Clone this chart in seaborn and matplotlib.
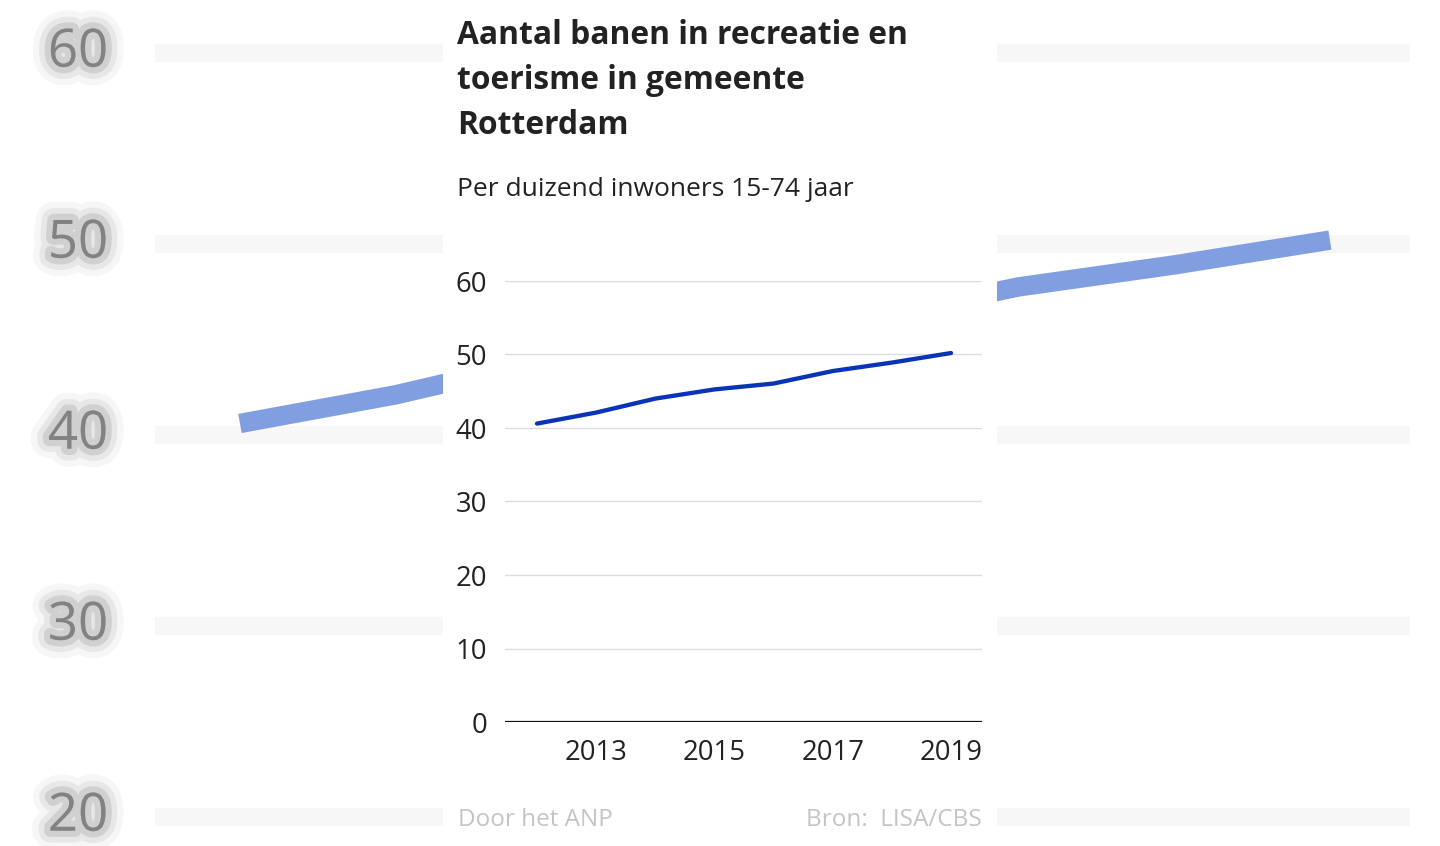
import matplotlib
matplotlib.use("Agg")
import matplotlib.pyplot as plt
import matplotlib.patheffects as pe
from matplotlib.patches import Rectangle
import seaborn as sns
import pandas as pd

# data
years = [2012, 2013, 2014, 2015, 2016, 2017, 2018, 2019]
banen = [40.6, 42.1, 44.0, 45.25, 46.05, 47.75, 48.9, 50.2]
y_ticks = [0, 10, 20, 30, 40, 50, 60]
x_ticks = [2013, 2015, 2017, 2019]
bg_ticks = [20, 30, 40, 50, 60]

title = "Aantal banen in recreatie en\ntoerisme in gemeente\nRotterdam"
subtitle = "Per duizend inwoners 15-74 jaar"
credit_left = "Door het ANP"
credit_right = "Bron:  LISA/CBS"

df = pd.DataFrame({"jaar": years, "banen": banen})

sns.set_theme(style="white")
plt.rcParams["font.family"] = ["Open Sans", "DejaVu Sans"]

W, H = 1440, 846
fig = plt.figure(figsize=(W / 100, H / 100), dpi=100)
fig.patch.set_facecolor("white")

# blurred, enlarged copy of the chart in the background
bg = fig.add_axes([0, 0, 1, 1], zorder=-2)
bg.set_xlim(2010.459, 2019.707)
bg.set_ylim(18.48, 62.77)
blur = [pe.Stroke(linewidth=26, foreground="#f0f0f0", alpha=0.6),
        pe.Stroke(linewidth=17, foreground="#dddddd", alpha=0.6),
        pe.Stroke(linewidth=9, foreground="#bbbbbb", alpha=0.5),
        pe.Normal()]
for t in bg_ticks:
    bg.axhline(t, xmin=155 / W, xmax=1410 / W, color="#f7f7f7", lw=13,
               solid_capstyle="butt", zorder=1)
    bg.text(78 / W, t, str(t), transform=bg.get_yaxis_transform(),
            ha="center", va="center", fontsize=38, color="#666666", alpha=0.55,
            path_effects=blur)
sns.lineplot(data=df, x="jaar", y="banen", ax=bg, color="#819fe0", lw=14,
             solid_capstyle="butt", zorder=2)
bg.set_axis_off()

# white panel for the actual chart
fig.add_artist(Rectangle((443 / W, 0), 554 / W, 1, transform=fig.transFigure,
                         facecolor="white", edgecolor="none", zorder=-1))

ax = fig.add_axes([505 / W, 1 - 722 / H, 477 / W, 441 / H], zorder=1)
ax.set_facecolor("none")
sns.lineplot(data=df, x="jaar", y="banen", ax=ax, color="#0a34b8", lw=3.1,
             zorder=3)
ax.set_xlim(2011.459, 2019.524)
ax.set_ylim(0, 60)
ax.set_yticks(y_ticks)
ax.set_xticks(x_ticks)
ax.yaxis.grid(True, color="#dcdcdc", lw=1)
ax.axhline(0, color="#111111", lw=1.6, zorder=4)
for s in ax.spines.values():
    s.set_visible(False)
ax.tick_params(axis="y", length=0, pad=13, labelsize=19.8, labelcolor="#222222")
ax.tick_params(axis="x", length=0, pad=12, labelsize=19.8, labelcolor="#222222")
ax.set_xlabel("")
ax.set_ylabel("")

fig.text(457 / W, 1 - 19 / H, title, ha="left", va="top", fontsize=22.9,
         fontweight="bold", color="#222222", linespacing=1.47, zorder=5)
fig.text(457 / W, 1 - 190 / H, subtitle, ha="left", va="center", fontsize=19,
         color="#222222", zorder=5)
fig.text(458 / W, 1 - 820 / H, credit_left, ha="left", va="center", fontsize=17.5,
         color="#c4c4c4", zorder=5)
fig.text(982 / W, 1 - 820 / H, credit_right, ha="right", va="center", fontsize=17.5,
         color="#c4c4c4", zorder=5)

fig.savefig("out.png", dpi=100)
